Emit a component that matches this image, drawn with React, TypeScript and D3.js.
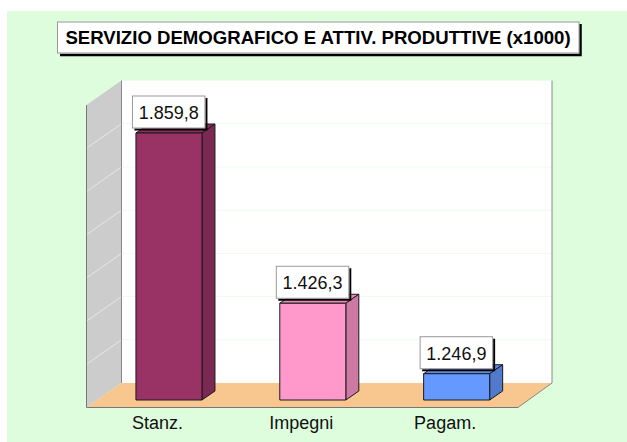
import React from "react";
import * as d3 from "d3";

const titleText = "SERVIZIO DEMOGRAFICO E ATTIV. PRODUTTIVE (x1000)";
const categories = ["Stanz.", "Impegni", "Pagam."];
const values = [1859.8, 1426.3, 1246.9];
const valueLabels = ["1.859,8", "1.426,3", "1.246,9"];
const frontColors = ["#993366", "#FF99CC", "#6699FF"];
const sideColors = ["#7A2952", "#CC7AA3", "#527ACC"];
const topColors = ["#8A2E5C", "#E68AB8", "#5C8AE6"];
const gridTicks = [1180, 1290, 1400, 1510, 1620, 1730, 1840, 1950];

const font = "'Liberation Sans', Arial, sans-serif";

const y = d3.scaleLinear().domain([1180, 1859.8]).range([400, 133]);
const x = d3
  .scaleBand<string>()
  .domain(categories)
  .range([97.1, 528.5])
  .paddingInner(0.541)
  .paddingOuter(0.27);

const wallLeft = 121.5;
const wallRight = 552;
const wallBottom = 383;
const floorLeft = 86.5;
const floorRight = 518;
const floorBottom = 407.5;
const gridOffset = wallBottom - y(1180);
const depthX = 13;
const depthY = 9;

const poly = (pts: [number, number][]) => d3.line()(pts) + "Z";

export default function App() {
  const wallTop = y(gridTicks[gridTicks.length - 1]) + gridOffset;
  const sideTop = wallTop + floorBottom - wallBottom;
  return (
    <svg
      width={627}
      height={442}
      style={{ position: "absolute", left: 0, top: 0, display: "block" }}
    >
      <rect x={7} y={11} width={620} height={431} fill="#DDFDDD" />

      <rect x={57.5} y={22} width={521.5} height={31} fill="#fff" />
      <path d={`M580.5 24V55H60`} fill="none" stroke="#000" strokeWidth={2.5} />
      <rect x={57.5} y={22} width={521.5} height={31} fill="#fff" stroke="#999" strokeWidth={1} />
      <text
        x={318}
        y={43.5}
        textAnchor="middle"
        fontFamily={font}
        fontWeight="bold"
        fontSize={18.6}
        fill="#000"
      >
        {titleText}
      </text>

      <rect x={wallLeft} y={wallTop} width={wallRight - wallLeft} height={wallBottom - wallTop} fill="#fff" />
      <path
        d={poly([
          [floorLeft, sideTop],
          [wallLeft, wallTop],
          [wallLeft, wallBottom],
          [floorLeft, floorBottom],
        ])}
        fill="#CCCCCC"
      />
      <path
        d={poly([
          [floorLeft, floorBottom],
          [wallLeft, wallBottom],
          [wallRight, wallBottom],
          [floorRight, floorBottom],
        ])}
        fill="#F8C78F"
      />
      {gridTicks.slice(1, -1).map((t) => {
        const gy = y(t) + gridOffset;
        return (
          <g key={t}>
            <line x1={wallLeft} x2={wallRight} y1={gy} y2={gy} stroke="#EEFBEE" strokeWidth={1} />
            <line
              x1={wallLeft}
              x2={floorLeft}
              y1={gy}
              y2={gy + floorBottom - wallBottom}
              stroke="#E8E8E8"
              strokeWidth={1}
            />
          </g>
        );
      })}
      <path
        d={`M${floorLeft} ${sideTop}V${floorBottom}H${floorRight}`}
        fill="none"
        stroke="#777"
        strokeWidth={1}
      />
      <path d={`M${wallLeft} ${wallTop}V${wallBottom}`} fill="none" stroke="#888" strokeWidth={1} />
      <path d={`M${wallRight} ${wallTop}V${wallBottom}L${floorRight} ${floorBottom}`} fill="none" stroke="#888" strokeWidth={1} />

      {categories.map((c, i) => {
        const l = x(c)!;
        const w = x.bandwidth();
        const r = l + w;
        const t = y(values[i]);
        const b = y(1180);
        return (
          <g key={c} stroke="#1a1a1a" strokeWidth={1} strokeLinejoin="round">
            <path
              d={poly([
                [l, t],
                [l + depthX, t - depthY],
                [r + depthX, t - depthY],
                [r, t],
              ])}
              fill={topColors[i]}
            />
            <path
              d={poly([
                [r, t],
                [r + depthX, t - depthY],
                [r + depthX, b - depthY],
                [r, b],
              ])}
              fill={sideColors[i]}
            />
            <rect x={l} y={t} width={w} height={b - t} fill={frontColors[i]} />
          </g>
        );
      })}

      {categories.map((c, i) => {
        const l = x(c)!;
        const t = y(values[i]);
        const bx = l - 3.5;
        const by = t - 37;
        const bw = 72.5;
        const bh = 32;
        return (
          <g key={c}>
            <path
              d={`M${bx + bw + 1.5} ${by + 2}V${by + bh + 1.5}H${bx + 2}`}
              fill="none"
              stroke="#000"
              strokeWidth={2}
            />
            <rect x={bx} y={by} width={bw} height={bh} fill="#fff" stroke="#999" strokeWidth={1} />
            <text
              x={bx + bw / 2}
              y={by + 23}
              textAnchor="middle"
              fontFamily={font}
              fontSize={18}
              fill="#111"
            >
              {valueLabels[i]}
            </text>
          </g>
        );
      })}

      {categories.map((c) => (
        <text
          key={c}
          x={x(c)! + x.bandwidth() / 2 - 11.5}
          y={429}
          textAnchor="middle"
          fontFamily={font}
          fontSize={18}
          fill="#111"
        >
          {c}
        </text>
      ))}
    </svg>
  );
}
